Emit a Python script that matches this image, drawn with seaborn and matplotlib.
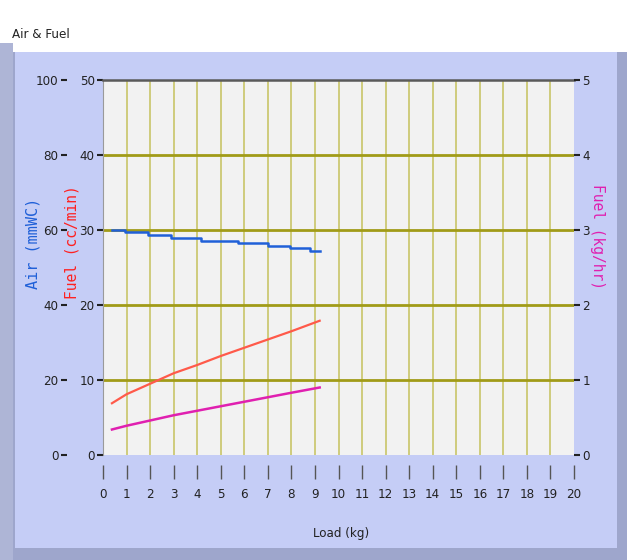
import numpy as np
import pandas as pd
import seaborn as sns
import matplotlib
matplotlib.use("Agg")
from matplotlib import pyplot as plt
from matplotlib.patches import Rectangle

# data
air_load = [0.38, 0.93, 1.91, 2.90, 4.18, 5.73, 7.00, 7.93, 8.78, 9.20]
air_mmwc = [60.0, 59.4, 58.8, 58.0, 57.2, 56.6, 55.8, 55.1, 54.4, 54.4]

fuel_load = [0.38, 1.0, 2.0, 3.0, 4.0, 5.0, 6.0, 7.0, 8.0, 9.2]
fuel_ccmin = [6.9, 8.1, 9.5, 10.9, 12.0, 13.2, 14.3, 15.4, 16.5, 17.9]
fuel_kghr = [0.34, 0.39, 0.46, 0.53, 0.59, 0.65, 0.71, 0.77, 0.83, 0.90]

air_df = pd.DataFrame({"load": air_load, "air": air_mmwc})
fuel_df = pd.DataFrame({"load": fuel_load, "cc": fuel_ccmin, "kg": fuel_kghr})

W, H = 627, 560
fig = plt.figure(figsize=(W / 100, H / 100), dpi=100)
fig.patch.set_facecolor("white")

# LabVIEW style panel behind the graph
fig.patches.append(Rectangle((0, 0), 13 / W, 1 - 43 / H, transform=fig.transFigure,
                             facecolor="#AEB5D6", edgecolor="none", zorder=-10))
fig.patches.append(Rectangle((13 / W, 0), 614 / W, 1 - 52 / H, transform=fig.transFigure,
                             facecolor="#9EA6CC", edgecolor="none", zorder=-10))
fig.patches.append(Rectangle((15 / W, 12 / H), 602 / W, 1 - 64 / H, transform=fig.transFigure,
                             facecolor="#C5CDF6", edgecolor="none", zorder=-9))

tick_font = "DejaVu Sans"
tick_size = 9.5


def style_labels(labels):
    for lab in labels:
        lab.set_family(tick_font)
        lab.set_fontstretch("condensed")
        lab.set_fontsize(tick_size)
        lab.set_color("#222222")


ax = fig.add_axes([103 / W, 1 - 455 / H, 471 / W, 375 / H])
ax.set_facecolor("#F2F2F2")
ax.set_xlim(0, 20)
ax.set_ylim(0, 50)

# grid
for xv in range(1, 20):
    ax.axvline(xv, color="#CFCB7C", lw=1.4, zorder=1)
for yv in range(10, 50, 10):
    ax.axhline(yv, color="#A19B18", lw=2, zorder=1)

sns.lineplot(data=fuel_df, x="load", y="cc", ax=ax, color="#FF5A4A", lw=1.6, zorder=3)

ax.set_xticks(range(0, 21))
ax.set_yticks(range(0, 51, 10))
ax.tick_params(axis="y", direction="out", length=4, width=1.5, color="#222222", pad=2)
ax.tick_params(axis="x", direction="out", length=10, width=1, color="#555555", pad=7)
ax.spines["bottom"].set_position(("outward", 7))
ax.spines["bottom"].set_visible(False)
ax.spines["top"].set_color("#5A5A5A")
ax.spines["top"].set_linewidth(1.8)
ax.spines["left"].set_color("#9A9A9A")
ax.spines["right"].set_visible(False)
style_labels(ax.get_xticklabels() + ax.get_yticklabels())
ax.set_xlabel("")
ax.set_ylabel("")

# Air axis on the left, further out
ax_air = ax.twinx()
ax_air.set_ylim(0, 100)
ax_air.yaxis.set_ticks_position("left")
ax_air.spines["left"].set_position(("outward", 26))
for s in ax_air.spines.values():
    s.set_visible(False)
sns.lineplot(data=air_df, x="load", y="air", ax=ax_air, color="#2060D8", lw=1.8,
             drawstyle="steps-post", zorder=3)
ax_air.set_yticks(range(0, 101, 20))
ax_air.tick_params(axis="y", direction="out", length=4, width=1.5, color="#222222", pad=2,
                   labelleft=True, labelright=False)
style_labels(ax_air.get_yticklabels())
ax_air.set_xlabel("")
ax_air.set_ylabel("")

# Fuel kg/hr on the right
ax_kg = ax.twinx()
ax_kg.set_ylim(0, 5)
for s in ax_kg.spines.values():
    s.set_visible(False)
sns.lineplot(data=fuel_df, x="load", y="kg", ax=ax_kg, color="#E020B0", lw=1.8, zorder=3)
ax_kg.set_yticks(range(0, 6))
ax_kg.tick_params(axis="y", direction="out", length=4, width=1.5, color="#222222", pad=2)
style_labels(ax_kg.get_yticklabels())
ax_kg.set_xlabel("")
ax_kg.set_ylabel("")
ax_kg.set_xlim(0, 20)

# labels
mono = "DejaVu Sans Mono"
fig.text(33 / W, 1 - 243 / H, "Air (mmWC)", rotation=90, color="#2060D8", family=mono,
         fontsize=11, ha="center", va="center")
fig.text(72 / W, 1 - 242 / H, "Fuel (cc/min)", rotation=90, color="#FF2020", family=mono,
         fontsize=10.5, ha="center", va="center")
fig.text(597 / W, 1 - 237 / H, "Fuel (kg/hr)", rotation=-90, color="#E020B0", family=mono,
         fontsize=10.5, ha="center", va="center")
fig.text(341 / W, 1 - 533 / H, "Load (kg)", color="#222222", family=tick_font,
         fontstretch="condensed", fontsize=9.5, ha="center", va="center")
fig.text(12 / W, 1 - 35 / H, "Air & Fuel", color="#222222", family=tick_font,
         fontstretch="condensed", fontsize=9.5, ha="left", va="center")

fig.savefig("out.png", dpi=100)
